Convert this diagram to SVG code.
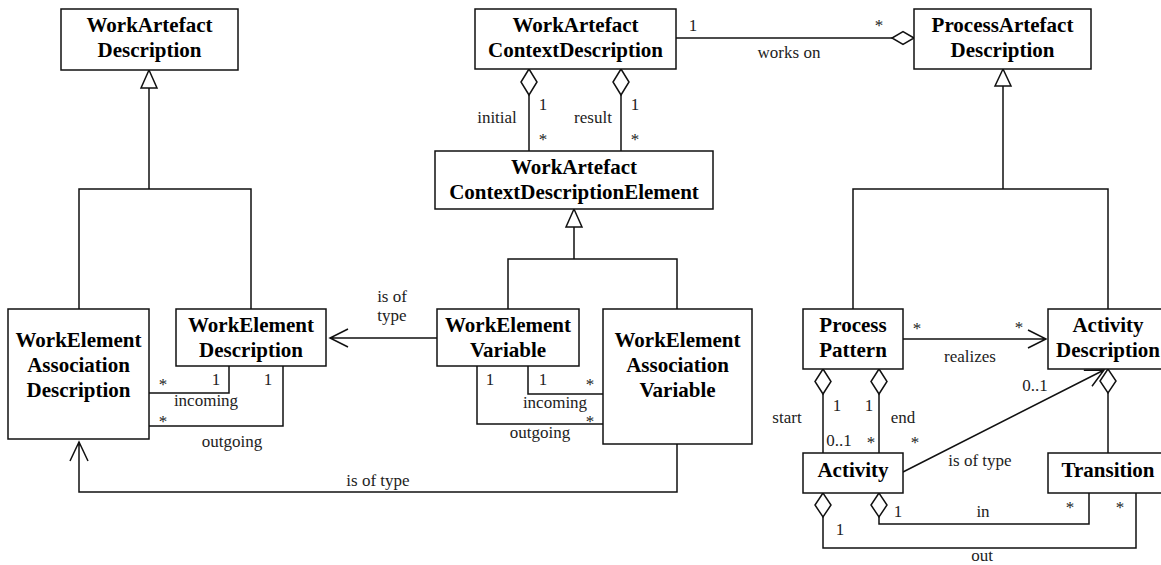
<svg xmlns="http://www.w3.org/2000/svg" width="1161" height="565" viewBox="0 0 1161 565">
<style>
.box{fill:#fff;stroke:#111;stroke-width:1.5}
.n{font-family:'Liberation Serif','Tinos','Times New Roman','DejaVu Serif',serif;font-weight:bold;font-size:21px;fill:#000;text-anchor:middle}
.l{font-family:'Liberation Serif','Tinos','Times New Roman','DejaVu Serif',serif;font-size:17px;fill:#222;text-anchor:middle}
.c{fill:none;stroke:#111;stroke-width:1.5}
.tri{fill:#fff;stroke:#111;stroke-width:1.5}
.dia{fill:#fff;stroke:#111;stroke-width:1.5}
</style>
<rect width="1161" height="565" fill="#fff"/>
<g id="connectors">
  <path class="c" d="M79,309 V189 H251 V309 M149,189 V88"/>
  <polygon class="tri" points="149,70 141,88 157,88"/>
  <path class="c" d="M508,309 V259 H677 V309 M574,259 V227"/>
  <polygon class="tri" points="574,209 566,227 582,227"/>
  <path class="c" d="M853,309 V189 H1108 V309 M1003,189 V86"/>
  <polygon class="tri" points="1003,69 995,86 1011,86"/>
  <path class="c" d="M676,38 H892"/>
  <polygon class="dia" points="914,38 903,31.5 892,38 903,44.5"/>
  <polygon class="dia" points="529,69 521,82 529,95 537,82"/>
  <path class="c" d="M529,95 V151"/>
  <polygon class="dia" points="621,69 613,82 621,95 629,82"/>
  <path class="c" d="M621,95 V151"/>
  <path class="c" d="M437,338 H330 M348,329 L330,338 L348,347"/>
  <path class="c" d="M149,393 H229 V366 M149,426 H283 V366"/>
  <path class="c" d="M528,366 V394 H603 M477,366 V424 H603"/>
  <path class="c" d="M677,444 V492 H79 V442 M70,461 L79,442 L88,461"/>
  <path class="c" d="M903,339 H1046 M1028,330 L1046,339 L1028,348"/>
  <polygon class="dia" points="823,369 815,381.5 823,394 831,381.5"/>
  <path class="c" d="M823,394 V453"/>
  <polygon class="dia" points="879,369 871,381.5 879,394 887,381.5"/>
  <path class="c" d="M879,394 V453"/>
  <path class="c" d="M903,472 L1104,370 M1083.8,370.2 L1104,370 L1092,386.2"/>
  <polygon class="dia" points="1108,369 1100,381 1108,393 1116,381"/>
  <path class="c" d="M1108,393 V453"/>
  <polygon class="dia" points="879,493 871,505 879,517 887,505"/>
  <path class="c" d="M879,517 V524 H1089 V493"/>
  <polygon class="dia" points="823,493 815,505 823,517 831,505"/>
  <path class="c" d="M823,517 V548 H1136 V493"/>
  <text class="l" x="693" y="31">1</text>
  <text class="l" x="879" y="31">*</text>
  <text class="l" x="789" y="58">works on</text>
  <text class="l" x="543" y="110">1</text>
  <text class="l" x="497" y="123">initial</text>
  <text class="l" x="543" y="145">*</text>
  <text class="l" x="635" y="110">1</text>
  <text class="l" x="593" y="123">result</text>
  <text class="l" x="635" y="145">*</text>
  <text class="l" x="392" y="302">is of</text>
  <text class="l" x="392" y="321">type</text>
  <text class="l" x="163" y="390">*</text>
  <text class="l" x="216" y="385">1</text>
  <text class="l" x="268" y="385">1</text>
  <text class="l" x="206" y="406">incoming</text>
  <text class="l" x="163" y="427">*</text>
  <text class="l" x="232" y="447">outgoing</text>
  <text class="l" x="490" y="385">1</text>
  <text class="l" x="543" y="385">1</text>
  <text class="l" x="590" y="390">*</text>
  <text class="l" x="555" y="408">incoming</text>
  <text class="l" x="590" y="427">*</text>
  <text class="l" x="540" y="438">outgoing</text>
  <text class="l" x="378" y="486">is of type</text>
  <text class="l" x="917" y="334">*</text>
  <text class="l" x="1019" y="333">*</text>
  <text class="l" x="970" y="362">realizes</text>
  <text class="l" x="787" y="423">start</text>
  <text class="l" x="837" y="411">1</text>
  <text class="l" x="869" y="411">1</text>
  <text class="l" x="903" y="423">end</text>
  <text class="l" x="839" y="446">0..1</text>
  <text class="l" x="871" y="448">*</text>
  <text class="l" x="915" y="448">*</text>
  <text class="l" x="1035" y="391">0..1</text>
  <text class="l" x="980" y="466">is of type</text>
  <text class="l" x="898" y="517">1</text>
  <text class="l" x="983" y="517">in</text>
  <text class="l" x="840" y="535">1</text>
  <text class="l" x="982" y="561">out</text>
  <text class="l" x="1070" y="513">*</text>
  <text class="l" x="1120" y="513">*</text>
</g>
<g id="WorkArtefactDescription">
  <rect class="box" x="61" y="9" width="177" height="61"/>
  <text class="n" x="149.5" y="32">WorkArtefact</text>
  <text class="n" x="149.5" y="57">Description</text>
</g>
<g id="WorkArtefactContextDescription">
  <rect class="box" x="475" y="9" width="201" height="60"/>
  <text class="n" x="575.5" y="32">WorkArtefact</text>
  <text class="n" x="575.5" y="57">ContextDescription</text>
</g>
<g id="ProcessArtefactDescription">
  <rect class="box" x="914" y="9" width="177" height="60"/>
  <text class="n" x="1002.5" y="32">ProcessArtefact</text>
  <text class="n" x="1002.5" y="57">Description</text>
</g>
<g id="WorkArtefactContextDescriptionElement">
  <rect class="box" x="435" y="151" width="278" height="58"/>
  <text class="n" x="574" y="174">WorkArtefact</text>
  <text class="n" x="574" y="199">ContextDescriptionElement</text>
</g>
<g id="WorkElementAssociationDescription">
  <rect class="box" x="8" y="309" width="141" height="130"/>
  <text class="n" x="78.5" y="347">WorkElement</text>
  <text class="n" x="78.5" y="372">Association</text>
  <text class="n" x="78.5" y="397">Description</text>
</g>
<g id="WorkElementDescription">
  <rect class="box" x="176" y="309" width="150" height="57"/>
  <text class="n" x="251" y="332">WorkElement</text>
  <text class="n" x="251" y="357">Description</text>
</g>
<g id="WorkElementVariable">
  <rect class="box" x="437" y="309" width="142" height="57"/>
  <text class="n" x="508" y="332">WorkElement</text>
  <text class="n" x="508" y="357">Variable</text>
</g>
<g id="WorkElementAssociationVariable">
  <rect class="box" x="603" y="309" width="149" height="135"/>
  <text class="n" x="677.5" y="347">WorkElement</text>
  <text class="n" x="677.5" y="372">Association</text>
  <text class="n" x="677.5" y="397">Variable</text>
</g>
<g id="ProcessPattern">
  <rect class="box" x="803" y="309" width="100" height="60"/>
  <text class="n" x="853" y="332">Process</text>
  <text class="n" x="853" y="357">Pattern</text>
</g>
<g id="ActivityDescription">
  <rect class="box" x="1048" y="309" width="120" height="60"/>
  <text class="n" x="1108" y="332">Activity</text>
  <text class="n" x="1108" y="357">Description</text>
</g>
<g id="Activity">
  <rect class="box" x="803" y="453" width="100" height="40"/>
  <text class="n" x="853" y="477">Activity</text>
</g>
<g id="Transition">
  <rect class="box" x="1048" y="453" width="120" height="40"/>
  <text class="n" x="1108" y="477">Transition</text>
</g>
</svg>
